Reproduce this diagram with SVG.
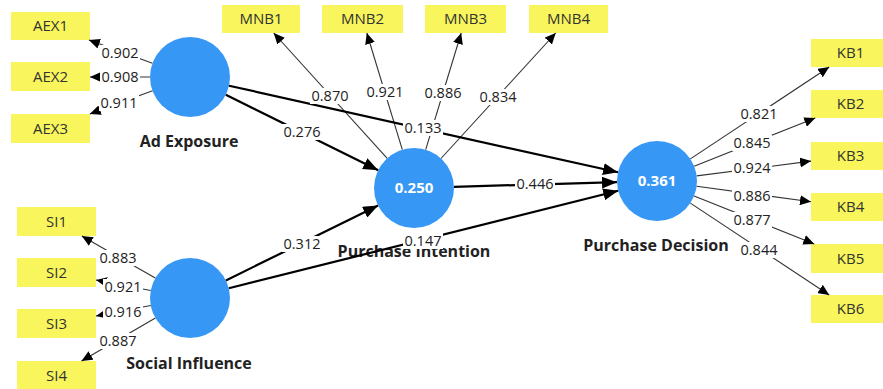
<svg xmlns="http://www.w3.org/2000/svg" width="883" height="389" viewBox="0 0 883 389">
<style>
.box{fill:#f8f65c}
.bt{font-family:"Open Sans","Noto Sans",sans-serif;font-size:15px;fill:#333;text-anchor:middle}
.lv{fill:#3797f5}
.lt{font-family:"Open Sans","Noto Sans",sans-serif;font-size:15px;font-weight:bold;fill:#fff;text-anchor:middle}
.nl{font-family:"Open Sans","Noto Sans",sans-serif;font-size:16px;font-weight:bold;fill:#222;text-anchor:middle}
.ld{stroke:#333;stroke-width:1.1;fill:none;marker-end:url(#ah)}
.sp{stroke:#000;stroke-width:2.2;fill:none;marker-end:url(#ahb)}
.bg{fill:#fff}
.vt{font-family:"Open Sans","Noto Sans",sans-serif;font-size:14.5px;fill:#222;text-anchor:middle}
</style>
<defs>
<marker id="ah" markerUnits="userSpaceOnUse" markerWidth="11" markerHeight="10" refX="11" refY="5" orient="auto"><path d="M0,0 L11,5 L0,10 z" fill="#000"/></marker>
<marker id="ahb" markerUnits="userSpaceOnUse" markerWidth="15" markerHeight="12" refX="15" refY="6" orient="auto"><path d="M0,0 L15,6 L0,12 z" fill="#000"/></marker>
</defs>

<g id="AEX1"><rect class="box" x="11" y="12" width="79" height="28"/><text class="bt" x="50.5" y="31">AEX1</text></g>
<g id="AEX2"><rect class="box" x="11" y="62" width="79" height="29"/><text class="bt" x="50.5" y="81.5">AEX2</text></g>
<g id="AEX3"><rect class="box" x="11" y="114" width="79" height="29"/><text class="bt" x="50.5" y="133.5">AEX3</text></g>
<g id="SI1"><rect class="box" x="17" y="207" width="79" height="29"/><text class="bt" x="56.5" y="226.5">SI1</text></g>
<g id="SI2"><rect class="box" x="17" y="258" width="79" height="29"/><text class="bt" x="56.5" y="277.5">SI2</text></g>
<g id="SI3"><rect class="box" x="17" y="309" width="79" height="29"/><text class="bt" x="56.5" y="328.5">SI3</text></g>
<g id="SI4"><rect class="box" x="17" y="361" width="79" height="29"/><text class="bt" x="56.5" y="380.5">SI4</text></g>
<g id="MNB1"><rect class="box" x="222" y="5" width="78" height="28"/><text class="bt" x="261" y="24">MNB1</text></g>
<g id="MNB2"><rect class="box" x="322" y="5" width="81" height="28"/><text class="bt" x="362.5" y="24">MNB2</text></g>
<g id="MNB3"><rect class="box" x="425" y="5" width="81" height="28"/><text class="bt" x="465.5" y="24">MNB3</text></g>
<g id="MNB4"><rect class="box" x="529" y="5" width="79" height="28"/><text class="bt" x="568.5" y="24">MNB4</text></g>
<g id="KB1"><rect class="box" x="811" y="39" width="79" height="28"/><text class="bt" x="850.5" y="58">KB1</text></g>
<g id="KB2"><rect class="box" x="811" y="90" width="79" height="28"/><text class="bt" x="850.5" y="109">KB2</text></g>
<g id="KB3"><rect class="box" x="811" y="142" width="79" height="28"/><text class="bt" x="850.5" y="161">KB3</text></g>
<g id="KB4"><rect class="box" x="811" y="193" width="79" height="28"/><text class="bt" x="850.5" y="212">KB4</text></g>
<g id="KB5"><rect class="box" x="811" y="244" width="79" height="29"/><text class="bt" x="850.5" y="263.5">KB5</text></g>
<g id="KB6"><rect class="box" x="811" y="295" width="79" height="28"/><text class="bt" x="850.5" y="314">KB6</text></g>

<g id="AdExposure"><circle class="lv" cx="190" cy="77" r="40"/><text class="nl" x="189" y="147">Ad Exposure</text></g>
<g id="SocialInfluence"><circle class="lv" cx="190" cy="298" r="40"/><text class="nl" x="189" y="369">Social Influence</text></g>
<g id="PurchaseIntention"><circle class="lv" cx="414" cy="188" r="40"/><text class="lt" x="414" y="193">0.250</text><text class="nl" x="414" y="257">Purchase Intention</text></g>
<g id="PurchaseDecision"><circle class="lv" cx="657" cy="181" r="40"/><text class="lt" x="657" y="186">0.361</text><text class="nl" x="656" y="251">Purchase Decision</text></g>

<g id="connectors">
<line class="ld" x1="152.4" y1="63.3" x2="88.9" y2="40"/>
<line class="ld" x1="150" y1="77" x2="90" y2="77"/>
<line class="ld" x1="152.5" y1="90.8" x2="89.8" y2="114"/>
<line class="ld" x1="155.3" y1="278.1" x2="81.8" y2="236"/>
<line class="ld" x1="150.7" y1="290.5" x2="96" y2="280"/>
<line class="ld" x1="150.7" y1="305.5" x2="96" y2="316"/>
<line class="ld" x1="155.4" y1="318.1" x2="81.5" y2="361"/>
<line class="ld" x1="387.2" y1="158.4" x2="273.7" y2="33"/>
<line class="ld" x1="402.3" y1="149.7" x2="366.8" y2="33"/>
<line class="ld" x1="425.7" y1="149.7" x2="461.2" y2="33"/>
<line class="ld" x1="441" y1="158.5" x2="555.7" y2="33"/>
<line class="ld" x1="690.4" y1="158.9" x2="829.2" y2="67"/>
<line class="ld" x1="694.2" y1="166.2" x2="815.3" y2="118"/>
<line class="ld" x1="696.7" y1="175.9" x2="811" y2="161.1"/>
<line class="ld" x1="696.6" y1="186.3" x2="811" y2="201.7"/>
<line class="ld" x1="694.1" y1="195.9" x2="814.3" y2="244"/>
<line class="ld" x1="690.4" y1="203.1" x2="829.2" y2="295"/>
<line class="sp" x1="225.8" y1="94.8" x2="378.2" y2="170.2"/>
<line class="sp" x1="229" y1="85.7" x2="618" y2="172.3"/>
<line class="sp" x1="454" y1="186.8" x2="617" y2="182.2"/>
<line class="sp" x1="225.9" y1="280.4" x2="378.1" y2="205.6"/>
<line class="sp" x1="228.8" y1="288.3" x2="618.2" y2="190.7"/>

<rect class="bg" x="100" y="45" width="40" height="16"/><text class="vt" x="120" y="58">0.902</text>
<rect class="bg" x="100" y="69" width="40" height="16"/><text class="vt" x="120" y="82">0.908</text>
<rect class="bg" x="99" y="95" width="40" height="16"/><text class="vt" x="119" y="108">0.911</text>
<rect class="bg" x="98" y="250" width="40" height="16"/><text class="vt" x="118" y="263">0.883</text>
<rect class="bg" x="103" y="279" width="40" height="16"/><text class="vt" x="123" y="292">0.921</text>
<rect class="bg" x="103" y="304" width="40" height="16"/><text class="vt" x="123" y="317">0.916</text>
<rect class="bg" x="98" y="333" width="40" height="16"/><text class="vt" x="118" y="346">0.887</text>
<rect class="bg" x="310" y="88" width="40" height="16"/><text class="vt" x="330" y="101">0.870</text>
<rect class="bg" x="365" y="84" width="40" height="16"/><text class="vt" x="385" y="97">0.921</text>
<rect class="bg" x="423" y="85" width="40" height="16"/><text class="vt" x="443" y="98">0.886</text>
<rect class="bg" x="478" y="89" width="40" height="16"/><text class="vt" x="498" y="102">0.834</text>
<rect class="bg" x="739" y="106" width="40" height="16"/><text class="vt" x="759" y="119">0.821</text>
<rect class="bg" x="732" y="135" width="40" height="16"/><text class="vt" x="752" y="148">0.845</text>
<rect class="bg" x="732" y="160" width="40" height="16"/><text class="vt" x="752" y="173">0.924</text>
<rect class="bg" x="732" y="188" width="40" height="16"/><text class="vt" x="752" y="201">0.886</text>
<rect class="bg" x="732" y="212" width="40" height="16"/><text class="vt" x="752" y="225">0.877</text>
<rect class="bg" x="739" y="242" width="40" height="16"/><text class="vt" x="759" y="255">0.844</text>
<rect class="bg" x="282" y="124" width="40" height="16"/><text class="vt" x="302" y="137">0.276</text>
<rect class="bg" x="403" y="120" width="40" height="16"/><text class="vt" x="423" y="133">0.133</text>
<rect class="bg" x="515" y="176" width="40" height="16"/><text class="vt" x="535" y="189">0.446</text>
<rect class="bg" x="282" y="236" width="40" height="16"/><text class="vt" x="302" y="249">0.312</text>
<rect class="bg" x="403" y="233" width="40" height="16"/><text class="vt" x="423" y="246">0.147</text>
</g>
</svg>
